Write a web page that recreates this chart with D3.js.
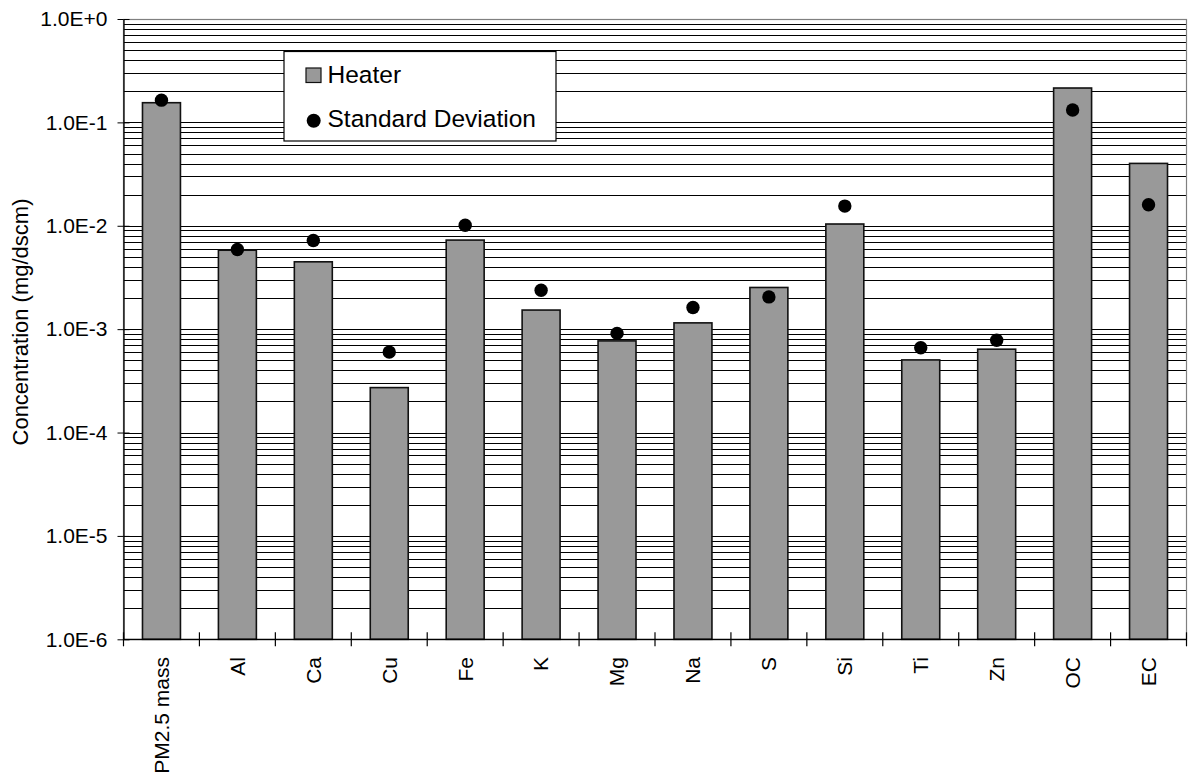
<!DOCTYPE html>
<html><head><meta charset="utf-8">
<script src="https://cdn.jsdelivr.net/npm/d3@7"></script>
<style>
html,body{margin:0;padding:0;background:#fff;}
svg{display:block;font-family:"Liberation Sans",Arial,sans-serif;}
</style></head>
<body><svg id="chart" width="1188" height="777"></svg>
<script>
const categories = ["PM2.5 mass","Al","Ca","Cu","Fe","K","Mg","Na","S","Si","Ti","Zn","OC","EC"];
const heater = [0.155,0.0058,0.00448,0.000272,0.00727,0.00153,0.00077,0.00115,0.00253,0.0104,0.000504,0.00064,0.215,0.0401];
const stdDev = [0.164,0.0059,0.0072,0.00060,0.0101,0.00238,0.00091,0.00162,0.00205,0.0155,0.00066,0.00078,0.1316,0.01595];
const yTicks = [1e-6,1e-5,1e-4,1e-3,1e-2,1e-1,1];
const yTickLabels = ["1.0E-6","1.0E-5","1.0E-4","1.0E-3","1.0E-2","1.0E-1","1.0E+0"];
const seriesNames = ["Heater","Standard Deviation"];
const yTitle = "Concentration (mg/dscm)";

const svg = d3.select("#chart");
const L = 123.5, R = 1186.5, T = 19, B = 639.3;

const x = d3.scaleBand().domain(categories).range([L,R]).paddingInner(0.5).paddingOuter(0.25);
const y = d3.scaleLog().domain([1e-6,1]).range([B,T]);

// minor + major gridlines
const gridVals = [];
for (let e=-6;e<0;e++){ for(let m=1;m<10;m++){ gridVals.push(m*Math.pow(10,e)); } }
gridVals.push(1);
svg.append("g").selectAll("line").data(gridVals).join("line")
  .attr("x1",L).attr("x2",R)
  .attr("y1",d=>Math.round(y(d))+0.5).attr("y2",d=>Math.round(y(d))+0.5)
  .attr("stroke","#000").attr("stroke-width",1);

// plot border (top/right)
svg.append("rect").attr("x",L).attr("y",Math.round(T)+0.5).attr("width",R-L).attr("height",B-T)
  .attr("fill","none").attr("stroke","#808080").attr("stroke-width",1.2);

// bars
svg.append("g").selectAll("rect").data(categories).join("rect")
  .attr("x",d=>x(d)).attr("width",x.bandwidth())
  .attr("y",(d,i)=>y(heater[i])).attr("height",(d,i)=>B-y(heater[i]))
  .attr("fill","#999999").attr("stroke","#111").attr("stroke-width",1.6);

// dots
svg.append("g").selectAll("circle").data(categories).join("circle")
  .attr("cx",d=>x(d)+x.bandwidth()/2).attr("cy",(d,i)=>y(stdDev[i])).attr("r",6.7)
  .attr("fill","#000");

// y axis
const yAxis = d3.axisLeft(y).tickValues(yTicks).tickFormat((d,i)=>yTickLabels[i])
  .tickSizeInner(6).tickSizeOuter(0).tickPadding(10);
const yg = svg.append("g").attr("transform",`translate(${L},0)`).call(yAxis);
yg.select(".domain").attr("stroke","#000").attr("stroke-width",1.3);
yg.selectAll(".tick line").attr("stroke","#000");
yg.selectAll(".tick text").attr("font-size",21).attr("fill","#000").attr("font-family","Liberation Sans, Arial, sans-serif");
yg.selectAll(".tick").append("line").attr("x1",0).attr("x2",6).attr("stroke","#000");

// x axis line
svg.append("line").attr("x1",L).attr("x2",R).attr("y1",B).attr("y2",B).attr("stroke","#000").attr("stroke-width",1.3);
// x boundary ticks (crossing)
const boundX = i => i===0 ? L : x(categories[i-1]) + x.bandwidth() + x.step()*x.paddingInner()/2 + (i===categories.length ? x.step()*(x.paddingOuter()*2 - x.paddingInner())/2 : 0);
svg.append("g").selectAll("line").data(d3.range(categories.length+1)).join("line")
  .attr("x1",i=>boundX(i)).attr("x2",i=>boundX(i))
  .attr("y1",B-7).attr("y2",B+7).attr("stroke","#000").attr("stroke-width",1.2);

// x labels
svg.append("g").selectAll("text").data(categories).join("text")
  .attr("transform",d=>`translate(${x(d)+x.bandwidth()/2},657) rotate(-90)`)
  .attr("text-anchor","end").attr("dy","0.35em")
  .attr("font-size",21).attr("fill","#000").text(d=>d);

// y title
svg.append("text").attr("transform","translate(20,322) rotate(-90)")
  .attr("text-anchor","middle").attr("dy","0.35em").attr("font-size",22).attr("fill","#000").text(yTitle);

// legend
const lg = svg.append("g");
lg.append("rect").attr("x",284).attr("y",51.5).attr("width",272).attr("height",89.5)
  .attr("fill","#fff").attr("stroke","#000").attr("stroke-width",1.2);
lg.append("rect").attr("x",306).attr("y",68).attr("width",15).attr("height",14.5)
  .attr("fill","#999999").attr("stroke","#111").attr("stroke-width",1.2);
lg.append("text").attr("x",327.5).attr("y",82.7).attr("font-size",24.5).attr("fill","#000").text(seriesNames[0]);
lg.append("circle").attr("cx",313.7).attr("cy",120.7).attr("r",7).attr("fill","#000");
lg.append("text").attr("x",327.5).attr("y",127.3).attr("font-size",24.5).attr("fill","#000").text(seriesNames[1]);
</script></body></html>
